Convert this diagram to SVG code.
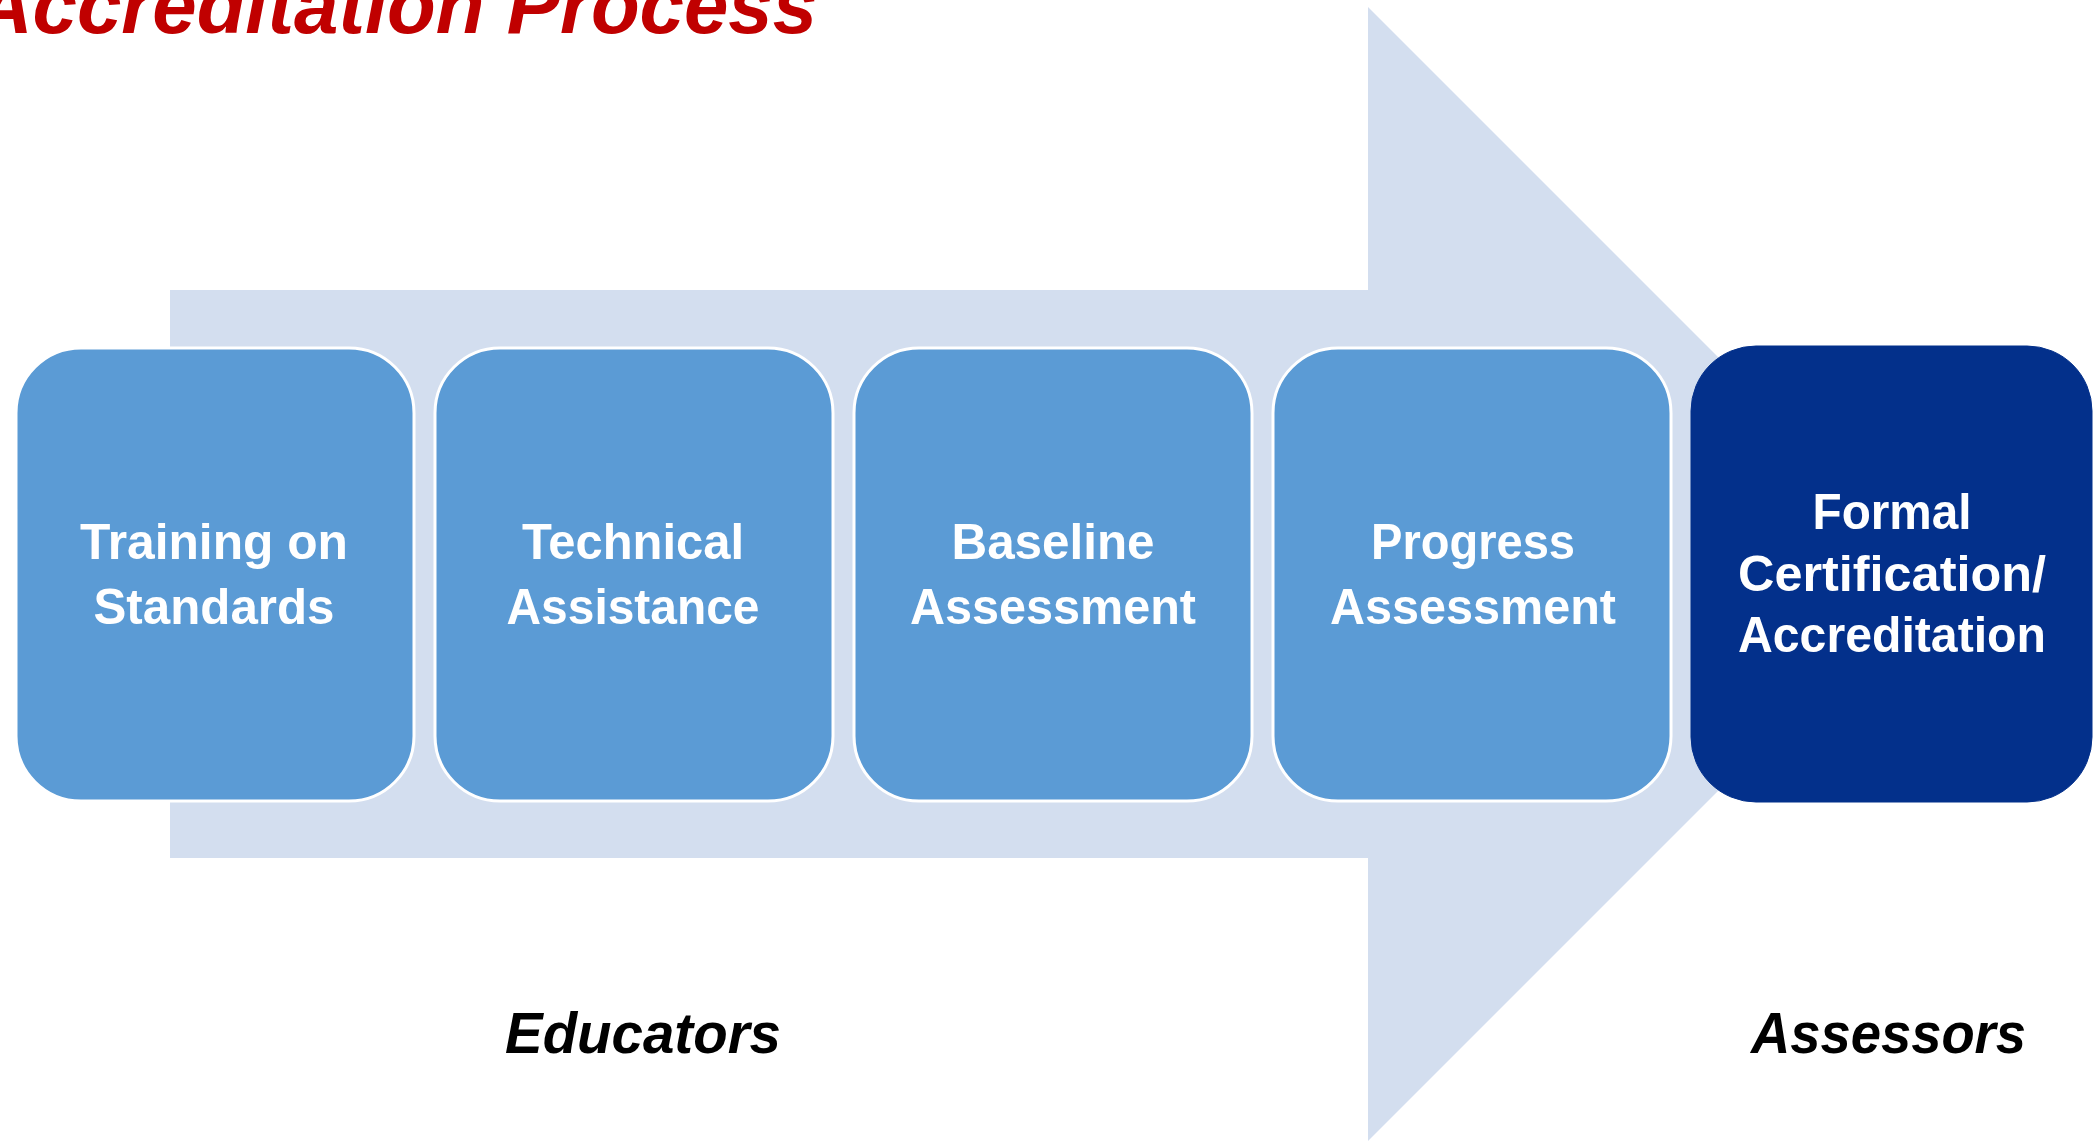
<svg xmlns="http://www.w3.org/2000/svg" width="2093" height="1141" viewBox="0 0 2093 1141">
<style>
.box{fill:#5B9BD5;stroke:#FFFFFF;stroke-width:3}
.dark{fill:#03308B;stroke:#03308B;stroke-width:1}
.lbl{font-family:"Liberation Sans",Arial,sans-serif;font-weight:bold;font-size:50px;fill:#FFFFFF;text-anchor:middle}
.role{font-family:"Liberation Sans",Arial,sans-serif;font-weight:bold;font-style:italic;font-size:58px;fill:#000000}
</style>
<rect width="2093" height="1141" fill="#FFFFFF"/>
<g id="background-arrow">
<polygon points="170,290 1368,290 1368,7 1935,574 1368,1141 1368,858 170,858" fill="#D3DEEF"/>
</g>
<text id="title" x="-25" y="33" textLength="842" lengthAdjust="spacingAndGlyphs" font-family="Liberation Sans, Arial, sans-serif" font-weight="bold" font-style="italic" font-size="80" fill="#C00000">Accreditation Process</text>
<g id="connectors"></g>
<g id="node-training">
<rect class="box" x="16" y="348" width="398" height="453" rx="65" ry="65"/>
<text class="lbl" x="214" y="559" textLength="268" lengthAdjust="spacingAndGlyphs">Training on</text>
<text class="lbl" x="214" y="624" textLength="241" lengthAdjust="spacingAndGlyphs">Standards</text>
</g>
<g id="node-technical">
<rect class="box" x="435" y="348" width="398" height="453" rx="65" ry="65"/>
<text class="lbl" x="633" y="559" textLength="222" lengthAdjust="spacingAndGlyphs">Technical</text>
<text class="lbl" x="633" y="624" textLength="253" lengthAdjust="spacingAndGlyphs">Assistance</text>
</g>
<g id="node-baseline">
<rect class="box" x="854" y="348" width="398" height="453" rx="65" ry="65"/>
<text class="lbl" x="1053" y="559" textLength="203" lengthAdjust="spacingAndGlyphs">Baseline</text>
<text class="lbl" x="1053" y="624" textLength="286" lengthAdjust="spacingAndGlyphs">Assessment</text>
</g>
<g id="node-progress">
<rect class="box" x="1273" y="348" width="398" height="453" rx="65" ry="65"/>
<text class="lbl" x="1473" y="559" textLength="204" lengthAdjust="spacingAndGlyphs">Progress</text>
<text class="lbl" x="1473" y="624" textLength="286" lengthAdjust="spacingAndGlyphs">Assessment</text>
</g>
<g id="node-formal">
<rect class="dark" x="1691" y="346" width="401" height="456" rx="65" ry="65"/>
<text class="lbl" x="1892" y="529" textLength="159" lengthAdjust="spacingAndGlyphs">Formal</text>
<text class="lbl" x="1892" y="591" textLength="308" lengthAdjust="spacingAndGlyphs">Certification/</text>
<text class="lbl" x="1892" y="652" textLength="308" lengthAdjust="spacingAndGlyphs">Accreditation</text>
</g>
<text id="educators" class="role" x="505" y="1053" textLength="276" lengthAdjust="spacingAndGlyphs">Educators</text>
<text id="assessors" class="role" x="1751" y="1053" textLength="275" lengthAdjust="spacingAndGlyphs">Assessors</text>
</svg>
